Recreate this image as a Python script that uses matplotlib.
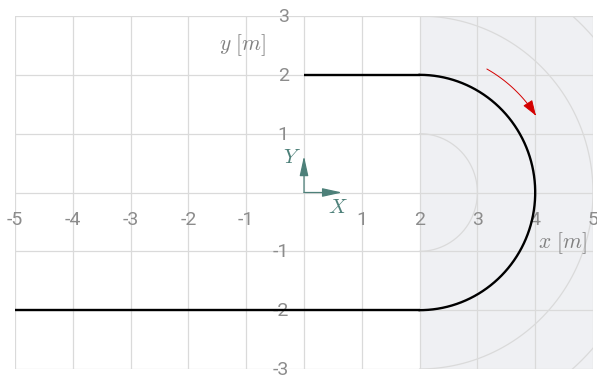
import numpy as np
import matplotlib
matplotlib.use("Agg")
import matplotlib.pyplot as plt
from matplotlib.patches import Rectangle, FancyArrowPatch
from matplotlib.path import Path
from matplotlib.transforms import offset_copy

plt.rcParams["mathtext.fontset"] = "cm"

# Axis ranges and tick labels
x_ticks = [-5, -4, -3, -2, -1, 1, 2, 3, 4, 5]
y_ticks = [-3, -2, -1, 1, 2, 3]

# Track geometry: straight in at y=2, half turn about (2, 0), straight out at y=-2
straight_top_x = [0, 2]
straight_top_y = [2, 2]
turn_center = (2, 0)
turn_radius = 2
straight_bottom_x = [2, -5]
straight_bottom_y = [-2, -2]

# Reference circles around the turn centre
ring_radii = [1, 2, 3, 4]

# Direction-of-travel arrow (angles in degrees, radius in m)
dir_radius = 2.4
dir_start_deg = 61
dir_end_deg = 33

grid_c = "#dadada"
label_c = "#8c8c8c"
frame_c = "#4d8079"

fig = plt.figure(figsize=(5.97, 3.78), dpi=100)
ax = fig.add_axes([15 / 597, 1 - 369 / 378, 578 / 597, 353 / 378])
ax.set_xlim(-5, 5)
ax.set_ylim(-3, 3)

# Shaded turn zone
ax.add_patch(Rectangle((2, -3), 3, 6, facecolor="#eff0f3", edgecolor="none", zorder=0))

# Grid
for gx in range(-5, 6):
    ax.axvline(gx, color=grid_c, lw=0.9, zorder=1)
for gy in range(-3, 4):
    ax.axhline(gy, color=grid_c, lw=0.9, zorder=1)

# Reference rings (right half only)
th = np.linspace(-np.pi / 2, np.pi / 2, 300)
for r in ring_radii:
    ax.plot(turn_center[0] + r * np.cos(th), turn_center[1] + r * np.sin(th),
            color=grid_c, lw=0.9, zorder=1.5)

# Track
ax.plot(straight_top_x, straight_top_y, color="black", lw=1.7, zorder=3, solid_capstyle="butt")
t = np.linspace(np.pi / 2, -np.pi / 2, 300)
ax.plot(turn_center[0] + turn_radius * np.cos(t), turn_center[1] + turn_radius * np.sin(t),
        color="black", lw=1.7, zorder=3)
ax.plot(straight_bottom_x, straight_bottom_y, color="black", lw=1.7, zorder=3, solid_capstyle="butt")

# Direction arrow
a = np.radians(np.linspace(dir_start_deg, dir_end_deg, 60))
pts = np.column_stack([turn_center[0] + dir_radius * np.cos(a), turn_center[1] + dir_radius * np.sin(a)])
ax.add_patch(FancyArrowPatch(path=Path(pts), arrowstyle="-|>,head_length=0.95,head_width=0.33",
                             mutation_scale=10, color="#d40000", lw=0.7, zorder=4))

# Body frame at the origin
for tip in [(0.66, 0), (0, 0.62)]:
    ax.annotate("", xy=tip, xytext=(0, 0),
                arrowprops=dict(arrowstyle="-|>,head_length=1.0,head_width=0.22", color=frame_c,
                                lw=0.9, shrinkA=0, shrinkB=0, mutation_scale=12), zorder=5)
ax.text(-0.2, 0.6, "$Y$", color=frame_c, fontsize=15, ha="center", va="center")
ax.text(0.58, -0.25, "$X$", color=frame_c, fontsize=15, ha="center", va="center")

# Axis names
ax.text(-1.07, 2.51, "$y\\ [m]$", color="#808080", fontsize=15.5, ha="center", va="center")
ax.text(4.47, -0.86, "$x\\ [m]$", color="#808080", fontsize=15.5, ha="center", va="center")

# Ticks through the origin
for s in ax.spines.values():
    s.set_visible(False)
ax.spines["bottom"].set_position(("data", 0))
ax.spines["left"].set_position(("data", 0))
ax.set_xticks(x_ticks)
ax.set_xticklabels([str(v) for v in x_ticks])
ax.set_yticks(y_ticks)
ax.set_yticklabels([str(v) for v in y_ticks])
ax.tick_params(axis="x", length=0, pad=13.5, labelsize=14, labelcolor=label_c)
ax.tick_params(axis="y", length=0, pad=11.0, labelsize=14, labelcolor=label_c)
for lab in ax.get_xticklabels() + ax.get_yticklabels():
    lab.set_fontfamily("Roboto")
    lab.set_zorder(6)
# lift the y labels a hair so the lowest one stays inside the canvas
for lab in ax.get_yticklabels():
    lab.set_transform(offset_copy(lab.get_transform(), fig=fig, x=0, y=1, units="dots"))

fig.savefig("out.png", dpi=100)
